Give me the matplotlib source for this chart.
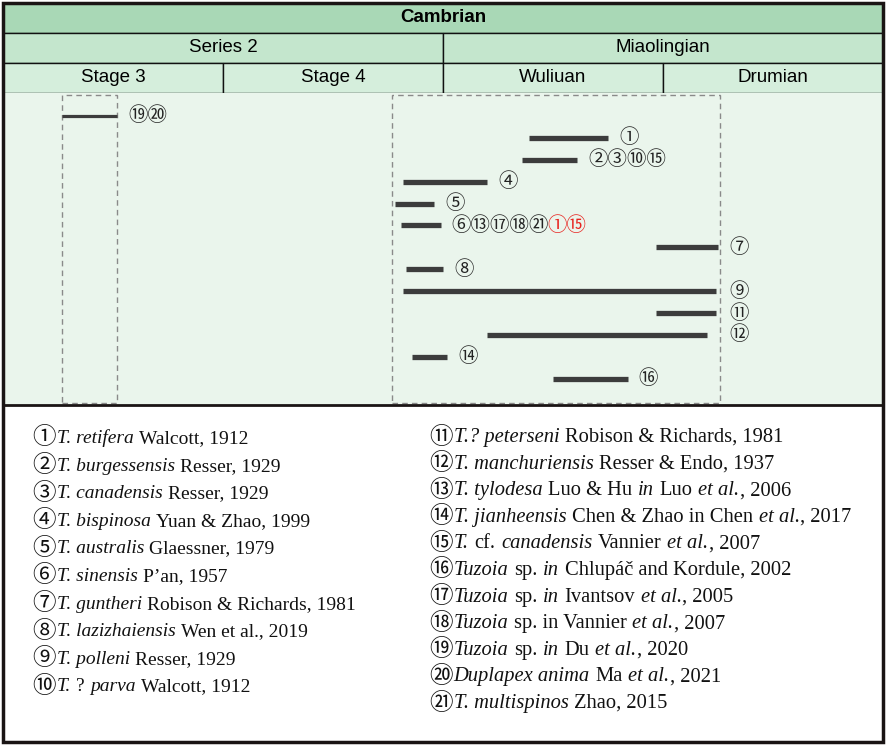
import matplotlib.pyplot as plt
from matplotlib.patches import Rectangle
import matplotlib.transforms as mtransforms

# header (time scale)
period = "Cambrian"
series = ["Series 2", "Miaolingian"]
series_span = [(0, 2), (2, 4)]
stages = ["Stage 3", "Stage 4", "Wuliuan", "Drumian"]

# ranges in stage units (0 = base of Stage 3, one unit per stage)
bar_start = [0.27, 2.39, 2.36, 1.82, 1.78, 1.81, 2.97, 1.83, 1.82, 2.97, 2.20, 1.86, 2.50]
bar_end = [0.52, 2.75, 2.61, 2.20, 1.96, 1.99, 3.25, 2.00, 3.24, 3.24, 3.20, 2.02, 2.84]
bar_labels = ["⑲⑳", "①", "②③⑩⑮", "④", "⑤", "⑥⑬⑰⑱㉑", "⑦", "⑧", "⑨", "⑪", "⑫", "⑭", "⑯"]
bar_labels_red = ["", "", "", "", "", "①⑮", "", "", "", "", "", "", ""]

# dashed boxes
box_start = [0.27, 1.77]
box_end = [0.52, 3.26]

# legend, *...* = italic
legend_left = [
    "①*T. retifera* Walcott, 1912",
    "②*T. burgessensis* Resser, 1929",
    "③*T. canadensis* Resser, 1929",
    "④*T. bispinosa* Yuan & Zhao, 1999",
    "⑤*T. australis* Glaessner, 1979",
    "⑥*T. sinensis* P’an, 1957",
    "⑦*T. guntheri* Robison & Richards, 1981",
    "⑧*T. lazizhaiensis* Wen et al., 2019",
    "⑨*T. polleni* Resser, 1929",
    "⑩*T.* ? *parva* Walcott, 1912",
]
legend_right = [
    "⑪*T.? peterseni* Robison & Richards, 1981",
    "⑫*T. manchuriensis* Resser & Endo, 1937",
    "⑬*T. tylodesa* Luo & Hu *in* Luo *et al.*, 2006",
    "⑭*T. jianheensis* Chen & Zhao in Chen *et al.*, 2017",
    "⑮*T.* cf. *canadensis* Vannier *et al.*, 2007",
    "⑯*Tuzoia* sp. *in* Chlupáč and Kordule, 2002",
    "⑰*Tuzoia* sp. *in* Ivantsov *et al.*, 2005",
    "⑱*Tuzoia* sp. in Vannier *et al.*, 2007",
    "⑲*Tuzoia* sp. *in* Du *et al.*, 2020",
    "⑳*Duplapex anima* Ma *et al.*, 2021",
    "㉑*T. multispinos* Zhao, 2015",
]

W, H = 886, 745
fig = plt.figure(figsize=(W / 100, H / 100), dpi=100)
fig.patch.set_facecolor("white")

def px_axes(x0, y0, x1, y1):
    return fig.add_axes([x0 / W, 1 - y1 / H, (x1 - x0) / W, (y1 - y0) / H])

head_font = ["Liberation Sans"]
circ_font = ["Noto Sans CJK SC", "DejaVu Sans"]
serif_font = ["Liberation Serif", "Noto Sans CJK SC"]

# ---- header
axh = px_axes(3, 3, 883, 93)
axh.set_xlim(0, 4)
axh.set_ylim(3, 0)
axh.axis("off")
axh.add_patch(Rectangle((0, 0), 4, 1, facecolor="#a9d8b6", edgecolor="#111111", lw=1))
axh.text(2, 0.5, period, ha="center", va="center", fontsize=13.5, fontweight="bold", family=head_font)
for name, (a, b) in zip(series, series_span):
    axh.add_patch(Rectangle((a, 1), b - a, 1, facecolor="#c4e6cd", edgecolor="#111111", lw=1))
    axh.text((a + b) / 2, 1.5, name, ha="center", va="center", fontsize=13.5, family=head_font)
for i, name in enumerate(stages):
    axh.add_patch(Rectangle((i, 2), 1, 1, facecolor="#d5eedc", edgecolor="#111111", lw=1))
    axh.text(i + 0.5, 2.5, name, ha="center", va="center", fontsize=13.5, family=head_font)

# ---- range chart
ax = px_axes(3, 93, 883, 405)
ax.set_facecolor("#eaf5ec")
ax.set_xlim(0, 4)
ax.set_ylim(13.2, -1.05)
ax.set_xticks([])
ax.set_yticks([])
for s in ax.spines.values():
    s.set_visible(False)

trans = mtransforms.blended_transform_factory(ax.transData, ax.transAxes)
for a, b in zip(box_start, box_end):
    ax.add_patch(Rectangle((a, 0.005), b - a, 0.99, transform=trans, fill=False,
                           edgecolor="#8a8a8a", lw=1, linestyle=(0, (4, 3))))

fig.canvas.draw()
renderer = fig.canvas.get_renderer()

for i in range(len(bar_start)):
    lw = 2.3 if i == 0 else 3.8
    ax.hlines(i, bar_start[i], bar_end[i], color="#3c3c3c", lw=lw, capstyle="butt")
    lx = 3.3 if bar_end[i] > 3.1 else bar_end[i] + 0.05
    t = ax.text(lx, i, bar_labels[i], ha="left", va="center", fontsize=14, family=circ_font, color="#222222")
    if bar_labels_red[i]:
        bb = t.get_window_extent(renderer)
        x_end = ax.transData.inverted().transform((bb.x1 - 2, 0))[0]
        ax.text(x_end, i, bar_labels_red[i], ha="left", va="center", fontsize=14,
                family=circ_font, color="#e8231f")

# ---- legend
axl = px_axes(3, 405, 883, 742)
axl.set_xlim(3, 883)
axl.set_ylim(742, 405)
axl.axis("off")

def text_w(t):
    return t.get_window_extent(renderer).width

def space_w(size, style):
    a = axl.text(0, 0, "n n", fontsize=size, style=style, family=serif_font)
    b = axl.text(0, 0, "nn", fontsize=size, style=style, family=serif_font)
    w = text_w(a) - text_w(b)
    a.remove()
    b.remove()
    return w

def rich_line(x, y, markup, size, csize):
    num, rest = markup[0], markup[1:]
    t = axl.text(x, y + 1.5, num, fontsize=csize, family=circ_font, va="baseline", ha="left", color="#111111")
    x += text_w(t) + 1
    for k, part in enumerate(rest.split("*")):
        if not part:
            continue
        style = "italic" if k % 2 else "normal"
        sp = space_w(size, style)
        lead = len(part) - len(part.lstrip(" "))
        trail = len(part) - len(part.rstrip(" "))
        core = part.strip(" ")
        x += lead * sp
        if core:
            t = axl.text(x, y, core, fontsize=size, style=style, family=serif_font,
                         va="baseline", ha="left", color="#111111")
            x += text_w(t) + 0.5
        x += trail * sp

for j, entry in enumerate(legend_left):
    rich_line(32, 443 + j * 27.6, entry, 14, 17)
for j, entry in enumerate(legend_right):
    rich_line(429, 442 + j * 26.6, entry, 14.8, 17)

# frame
frame = fig.add_axes([0, 0, 1, 1], facecolor="none")
frame.set_xlim(0, W)
frame.set_ylim(H, 0)
frame.axis("off")
frame.add_patch(Rectangle((3, 3), 880, 739, fill=False, edgecolor="#1a1414", lw=2.5))
frame.plot([3, 883], [405, 405], color="#1a1414", lw=2)

fig.savefig("out.png", dpi=100, facecolor="white")
